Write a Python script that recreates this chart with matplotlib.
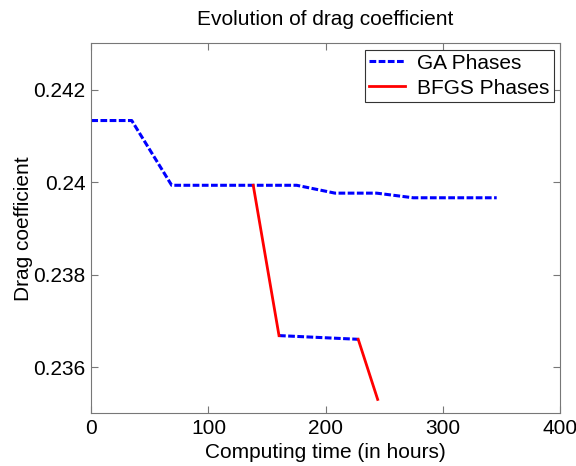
import numpy as np
import matplotlib.pyplot as plt

plt.rcParams['font.family'] = ['Liberation Sans', 'DejaVu Sans']

# GA phases (NaN splits the two stretches)
ga_time = [0, 34.5, 68.6, 175.3, 208.0, 243.5, 274.7, 346.0, np.nan, 160.2, 227.8]
ga_cd = [0.24133, 0.24133, 0.23993, 0.23993, 0.23976, 0.23976, 0.23966, 0.23966, np.nan, 0.23668, 0.23660]

# BFGS phases
bfgs_time = [138.2, 160.2, np.nan, 227.8, 244.4]
bfgs_cd = [0.23993, 0.23668, np.nan, 0.23660, 0.23530]

fs = 15

fig = plt.figure(figsize=(5.76, 4.66), dpi=100)
ax = fig.add_axes([0.1585, 0.1131, 0.8137, 0.794])

ax.plot(ga_time, ga_cd, color='blue', linestyle=(0, (2.2, 0.8)), linewidth=2.2, label='GA Phases')
ax.plot(bfgs_time, bfgs_cd, color='red', linestyle='-', linewidth=2.0, label='BFGS Phases')

ax.set_xlim(0, 400)
ax.set_ylim(0.235, 0.243)
ax.set_xticks([0, 100, 200, 300, 400])
ax.set_xticklabels(['0', '100', '200', '300', '400'])
ax.set_yticks([0.236, 0.238, 0.24, 0.242])
ax.set_yticklabels(['0.236', '0.238', '0.24', '0.242'])
ax.tick_params(direction='in', top=True, right=True, length=5, labelsize=fs, color='#777777', pad=4)
for s in ax.spines.values():
    s.set_color('#777777')

ax.set_title('Evolution of drag coefficient', fontsize=fs, pad=13)
ax.set_xlabel('Computing time (in hours)', fontsize=fs, labelpad=4)
ax.set_ylabel('Drag coefficient', fontsize=fs, labelpad=0)

leg = ax.legend(loc='upper right', fontsize=fs, handlelength=1.7, fancybox=False,
                framealpha=1, edgecolor='#333333', borderaxespad=0.3, labelspacing=0.28,
                borderpad=0.2, handletextpad=0.6)
leg.get_frame().set_linewidth(0.8)

fig.savefig('out.png', dpi=100)
